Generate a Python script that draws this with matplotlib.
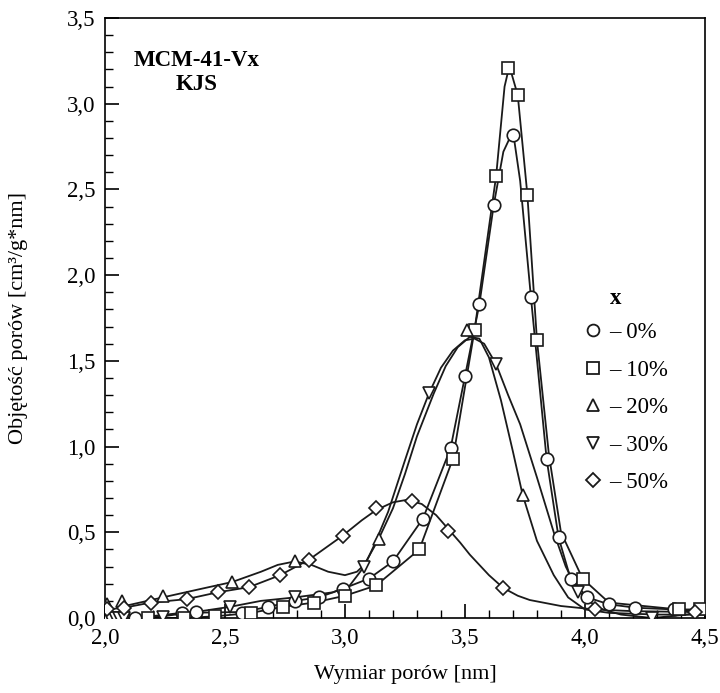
import matplotlib
matplotlib.use("Agg")
import matplotlib.pyplot as plt
from matplotlib.lines import Line2D
from matplotlib.ticker import MultipleLocator, FuncFormatter

plt.rcParams['font.family'] = ['Liberation Serif', 'DejaVu Serif']

# measured points (pore size nm, pore volume cm3/g*nm)
x0 = [2.125, 2.32, 2.38, 2.57, 2.68, 2.79, 2.89, 2.99, 3.10, 3.20, 3.325, 3.44, 3.50, 3.56, 3.62, 3.70, 3.775, 3.84, 3.89, 3.94, 4.01, 4.10, 4.21, 4.37]
y0 = [0.00, 0.03, 0.035, 0.03, 0.065, 0.10, 0.12, 0.17, 0.23, 0.33, 0.58, 0.99, 1.41, 1.83, 2.41, 2.82, 1.87, 0.93, 0.47, 0.23, 0.12, 0.08, 0.06, 0.05]

x10 = [2.18, 2.33, 2.46, 2.61, 2.74, 2.87, 3.00, 3.13, 3.31, 3.45, 3.54, 3.63, 3.68, 3.72, 3.76, 3.80, 3.99, 4.39, 4.48]
y10 = [0.00, 0.00, 0.01, 0.03, 0.065, 0.09, 0.13, 0.19, 0.40, 0.93, 1.68, 2.58, 3.21, 3.05, 2.47, 1.62, 0.23, 0.05, 0.05]

x20 = [2.01, 2.07, 2.24, 2.53, 2.79, 3.14, 3.51, 3.74]
y20 = [0.08, 0.10, 0.13, 0.21, 0.33, 0.46, 1.68, 0.72]

x30 = [2.00, 2.02, 2.04, 2.06, 2.08, 2.24, 2.52, 2.79, 3.08, 3.35, 3.63, 3.97, 4.28]
y30 = [0.00, 0.00, 0.00, 0.00, 0.00, 0.005, 0.065, 0.12, 0.30, 1.31, 1.48, 0.15, 0.00]

x50 = [2.01, 2.08, 2.19, 2.34, 2.47, 2.60, 2.73, 2.85, 2.99, 3.13, 3.28, 3.43, 3.66, 4.04, 4.46]
y50 = [0.05, 0.06, 0.09, 0.11, 0.15, 0.18, 0.25, 0.34, 0.48, 0.64, 0.68, 0.51, 0.175, 0.05, 0.035]

# fitted curves
fx0 = [2.05, 2.125, 2.32, 2.57, 2.68, 2.79, 2.89, 2.99, 3.10, 3.20, 3.325, 3.44, 3.50, 3.56, 3.62, 3.66, 3.70, 3.73, 3.775, 3.84, 3.89, 3.94, 4.01, 4.10, 4.21, 4.37, 4.5]
fy0 = [0.00, 0.00, 0.03, 0.035, 0.065, 0.10, 0.12, 0.17, 0.23, 0.33, 0.58, 0.99, 1.41, 1.83, 2.41, 2.72, 2.84, 2.55, 1.87, 0.93, 0.47, 0.23, 0.12, 0.08, 0.06, 0.05, 0.04]

fx10 = [2.10, 2.18, 2.33, 2.46, 2.61, 2.74, 2.87, 3.00, 3.13, 3.31, 3.45, 3.54, 3.63, 3.665, 3.685, 3.72, 3.76, 3.80, 3.85, 3.90, 3.99, 4.10, 4.39, 4.5]
fy10 = [0.00, 0.00, 0.00, 0.01, 0.03, 0.065, 0.09, 0.13, 0.19, 0.40, 0.93, 1.68, 2.58, 3.10, 3.22, 3.05, 2.47, 1.62, 0.95, 0.50, 0.23, 0.09, 0.05, 0.05]

fx20 = [2.05, 2.24, 2.40, 2.53, 2.65, 2.72, 2.79, 2.86, 2.93, 3.00, 3.05, 3.08, 3.14, 3.20, 3.25, 3.30, 3.37, 3.42, 3.47, 3.52, 3.56, 3.60, 3.65, 3.70, 3.74, 3.80, 3.87, 3.93, 4.00, 4.10, 4.30, 4.5]
fy20 = [0.06, 0.12, 0.17, 0.21, 0.27, 0.31, 0.33, 0.31, 0.27, 0.25, 0.27, 0.31, 0.46, 0.64, 0.84, 1.06, 1.31, 1.47, 1.58, 1.64, 1.63, 1.52, 1.27, 0.97, 0.72, 0.45, 0.25, 0.12, 0.05, 0.03, 0.02, 0.02]

fx30 = [2.00, 2.24, 2.40, 2.52, 2.65, 2.79, 2.95, 3.02, 3.08, 3.12, 3.18, 3.25, 3.30, 3.35, 3.40, 3.45, 3.50, 3.54, 3.58, 3.63, 3.68, 3.73, 3.80, 3.87, 3.92, 3.97, 4.05, 4.15, 4.28, 4.5]
fy30 = [0.00, 0.01, 0.04, 0.065, 0.10, 0.12, 0.15, 0.19, 0.30, 0.42, 0.62, 0.92, 1.13, 1.31, 1.46, 1.56, 1.62, 1.63, 1.60, 1.48, 1.30, 1.13, 0.82, 0.50, 0.30, 0.16, 0.06, 0.02, 0.00, 0.03]

fx50 = [2.01, 2.08, 2.19, 2.34, 2.47, 2.60, 2.73, 2.85, 2.99, 3.07, 3.13, 3.20, 3.26, 3.32, 3.38, 3.43, 3.48, 3.52, 3.60, 3.66, 3.72, 3.77, 3.90, 4.04, 4.20, 4.46, 4.5]
fy50 = [0.05, 0.06, 0.09, 0.11, 0.15, 0.18, 0.25, 0.34, 0.48, 0.57, 0.63, 0.675, 0.69, 0.665, 0.60, 0.52, 0.44, 0.37, 0.25, 0.175, 0.13, 0.105, 0.07, 0.05, 0.04, 0.035, 0.035]

labels = ["\u2013 0%", "\u2013 10%", "\u2013 20%", "\u2013 30%", "\u2013 50%"]
marks = ["o", "s", "^", "v", "D"]

fig = plt.figure(figsize=(7.2, 6.93), dpi=100)
ax = fig.add_axes([0.1458, 0.1082, 0.8333, 0.8658])

series = [(x0, y0, fx0, fy0), (x10, y10, fx10, fy10), (x20, y20, fx20, fy20),
          (x30, y30, fx30, fy30), (x50, y50, fx50, fy50)]
for (xs, ys, fx, fy), m in zip(series, marks):
    ax.plot(fx, fy, '-', color='#1a1a1a', lw=1.3, zorder=2)
    ms = 7.5 if m == "D" else 9
    ax.plot(xs, ys, m, ms=ms, mfc='white', mec='#1a1a1a', mew=1.2, ls='none', zorder=3)

ax.set_xlim(2.0, 4.5)
ax.set_ylim(0.0, 3.5)
ax.xaxis.set_major_locator(MultipleLocator(0.5))
ax.xaxis.set_minor_locator(MultipleLocator(0.1))
ax.yaxis.set_major_locator(MultipleLocator(0.5))
ax.yaxis.set_minor_locator(MultipleLocator(0.1))
fmt = FuncFormatter(lambda v, p: ("%.1f" % v).replace(".", ","))
ax.xaxis.set_major_formatter(fmt)
ax.yaxis.set_major_formatter(fmt)
ax.tick_params(which='major', direction='in', length=10, width=1.2, labelsize=16.5, pad=7)
ax.tick_params(which='minor', direction='in', length=6, width=1.0)
for s in ax.spines.values():
    s.set_linewidth(1.2)

ax.set_xlabel("Wymiar porów [nm]", fontsize=16)
ax.set_ylabel("Objętość porów [cm\u00b3/g*nm]", fontsize=16)
ax.xaxis.set_label_coords(0.5, -0.078)
ax.yaxis.set_label_coords(-0.128, 0.5)

ax.text(0.152, 0.93, "MCM-41-Vx", transform=ax.transAxes, fontsize=16.5,
        fontweight='bold', ha='center', va='center')
ax.text(0.152, 0.89, "KJS", transform=ax.transAxes, fontsize=16.5,
        fontweight='bold', ha='center', va='center')
ax.text(0.852, 0.533, "x", transform=ax.transAxes, fontsize=16.5,
        fontweight='bold', ha='center', va='center')

handles = [Line2D([], [], marker=m, ls='none', ms=(7 if m == "D" else 8.5), mfc='white',
                  mec='#1a1a1a', mew=1.3) for m in marks]
ax.legend(handles, labels, loc='upper left', bbox_to_anchor=(0.795, 0.493), frameon=False,
          fontsize=16.5, handlelength=1.0, handletextpad=0.2, labelspacing=0.72,
          borderpad=0, borderaxespad=0)

fig.savefig("out.png", dpi=100)
